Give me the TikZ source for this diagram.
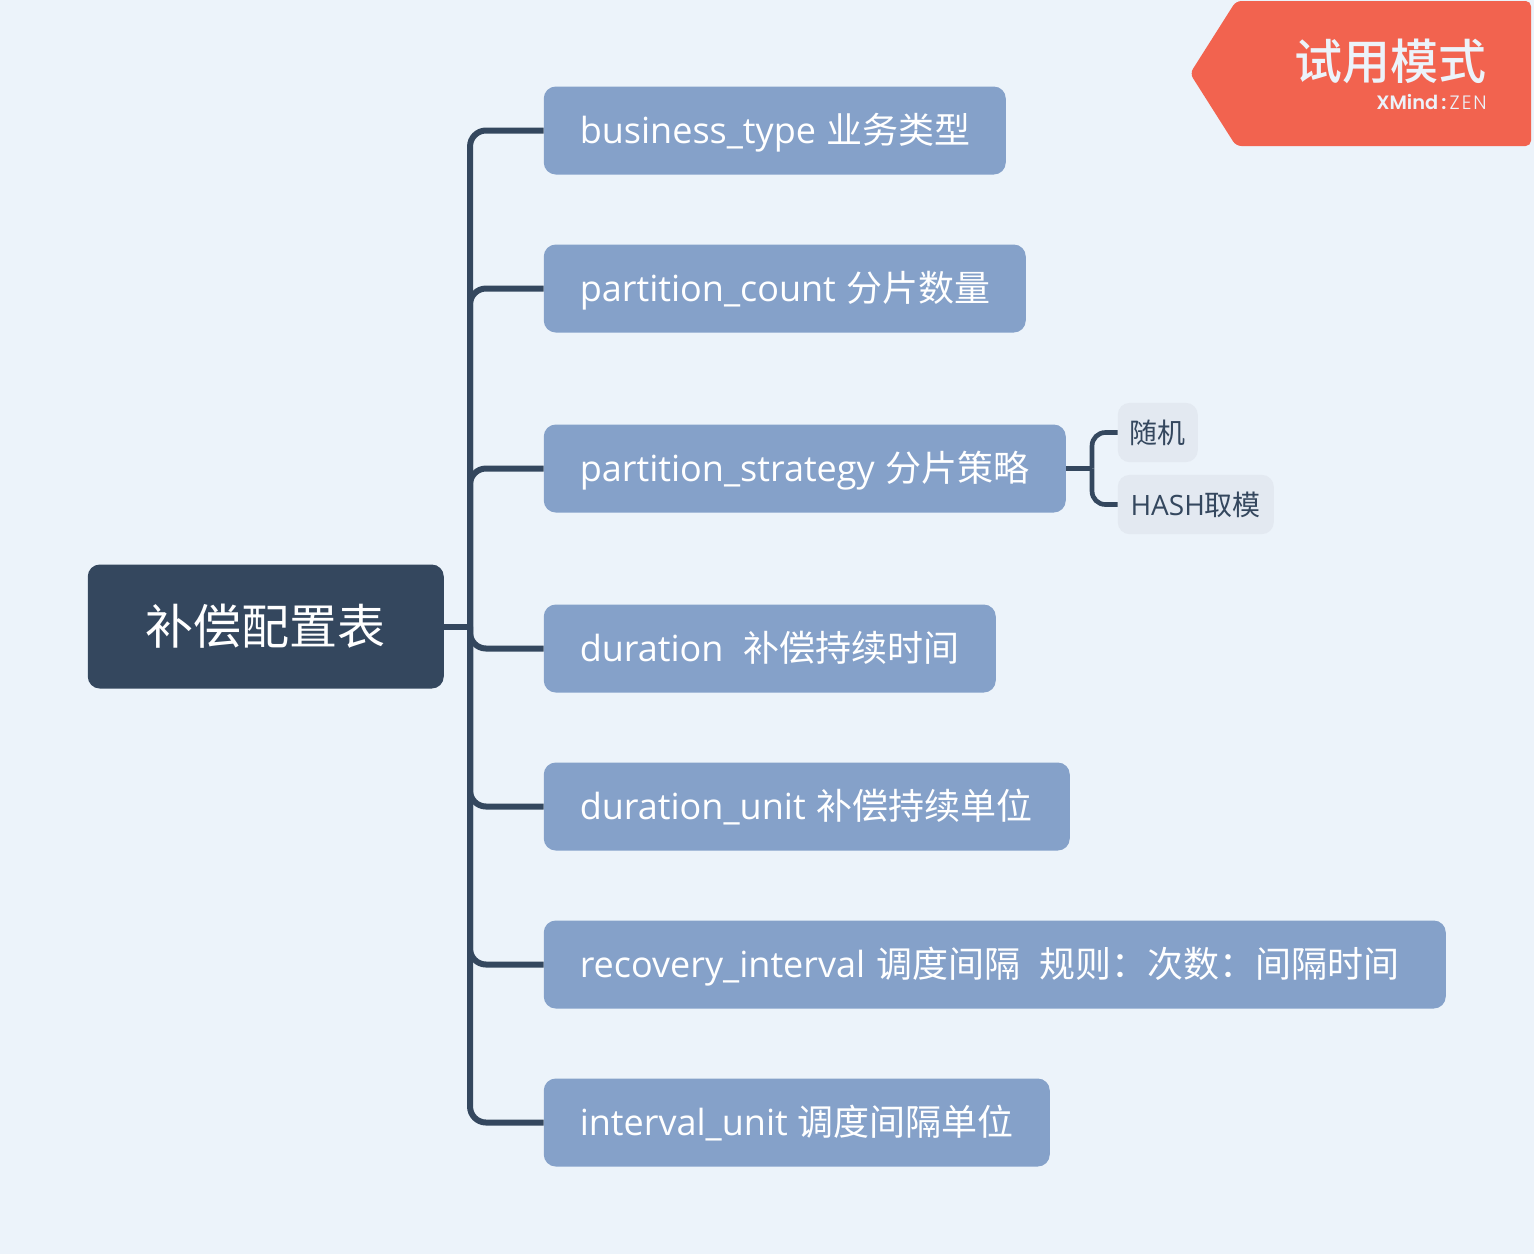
\documentclass[tikz,border=0pt]{standalone}
\usepackage{fontspec}
\setmainfont{Open Sans}
\newfontfamily\cjk{Noto Sans CJK SC}
\newfontfamily\markfont{Noto Sans CJK SC Medium}
\newfontfamily\logofont{Poppins SemiBold}
\newfontfamily\logolight[LetterSpace=10]{Poppins Light}
\definecolor{bgcolor}{HTML}{ECF3FA}
\definecolor{rootcolor}{HTML}{34475E}
\definecolor{topiccolor}{HTML}{85A1C9}
\definecolor{subcolor}{HTML}{E3E9F1}
\definecolor{markcolor}{HTML}{F2634F}
\tikzset{
    px/.style={x=0.75pt, y=-0.75pt},
    rootbox/.style={draw=none, fill=rootcolor, text=white, rounded corners=9pt, anchor=west,
        minimum height=93pt, inner xsep=0pt, inner ysep=0pt, align=center, font=\fontsize{36}{44}\selectfont},
    topicbox/.style={draw=none, fill=topiccolor, text=white, rounded corners=9pt, anchor=west,
        minimum height=66pt, inner xsep=27pt, inner ysep=0pt, text height=24.4pt, text depth=5.6pt,
        align=left, font=\fontsize{27}{32}\selectfont},
    subbox/.style={draw=none, fill=subcolor, text=rootcolor, rounded corners=9pt, anchor=west,
        minimum height=44.5pt, inner xsep=9pt, inner ysep=0pt, align=left, font=\fontsize{21}{25}\selectfont},
    branch/.style={draw=rootcolor, line width=4.5pt, rounded corners=12pt},
    subbranch/.style={draw=rootcolor, line width=3.5pt, rounded corners=10pt},
}
\begin{document}
\begin{tikzpicture}[px]
    \useasboundingbox[fill=bgcolor] (0,0) rectangle (1534,1254);

    % Trial mark in the corner
    \fill[markcolor, rounded corners=4pt] (1236,1) -- (1531,1) -- (1531,146) -- (1236,146) -- (1190,73.5) -- cycle;
    \node[anchor=east, inner sep=0pt, text=bgcolor, font=\fontsize{36}{44}\selectfont\markfont] (mark) at (1487,61) {试用模式};
    \node[anchor=east, inner sep=0pt, text=bgcolor, font=\fontsize{14.5}{16}\selectfont\logofont] (logo) at (1487,102) {XMind\,:\,{\logolight ZEN}};

    % Root and the topics
    \node[rootbox, minimum width=267pt] (root) at (87.5,626.5) {\cjk 补偿配置表};

    \node[topicbox, text width=292.5pt] (type) at (543.5,130.5) {\mbox{business\_type \hspace{-1.5pt}{\cjk 业务类型}}};
    \node[topicbox, text width=307.5pt] (count) at (543.5,288.5) {\mbox{partition\_count \hspace{-0.75pt}{\cjk 分片数量}}};
    \node[topicbox, text width=337.5pt] (strategy) at (543.5,468.5) {\mbox{partition\_strategy \hspace{-0.75pt}{\cjk 分片策略}}};
    \node[topicbox, text width=285pt] (duration) at (543.5,648.5) {\mbox{duration\ \ \hspace{-3pt}{\cjk 补偿持续时间}}};
    \node[topicbox, text width=340.5pt] (unit) at (543.5,806.5) {\mbox{duration\_unit \hspace{-0.75pt}{\cjk 补偿持续单位}}};
    \node[topicbox, text width=622.5pt] (interval) at (543.5,964.5) {\mbox{recovery\_interval \hspace{-0.75pt}{\cjk 调度间隔}\ \ \hspace{-3.75pt}{\cjk 规则：次数：间隔时间}}};
    \node[topicbox, text width=325.5pt] (intervalunit) at (543.5,1122.5) {\mbox{interval\_unit \hspace{-2pt}{\cjk 调度间隔单位}}};

    % Subtopics of the strategy
    \node[subbox, minimum width=60pt] (random) at (1117.5,432.5) {\cjk 随机};
    \node[subbox, minimum width=117pt] (hash) at (1117.5,504.5) {HASH{\cjk 取模}};

    % Branches from the root
    \coordinate (rootjoint) at ([xshift=26*0.75pt]root.east);
    \draw[branch] (root.east) -- (rootjoint);
    \foreach \child in {type, count, strategy, duration, unit, interval, intervalunit}
        \draw[branch] (rootjoint) |- (\child.west);

    % Branches of the strategy
    \coordinate (strategyjoint) at ([xshift=26*0.75pt]strategy.east);
    \draw[subbranch] (strategy.east) -- (strategyjoint);
    \draw[subbranch] (strategyjoint) |- (random.west);
    \draw[subbranch] (strategyjoint) |- (hash.west);
\end{tikzpicture}
\end{document}
